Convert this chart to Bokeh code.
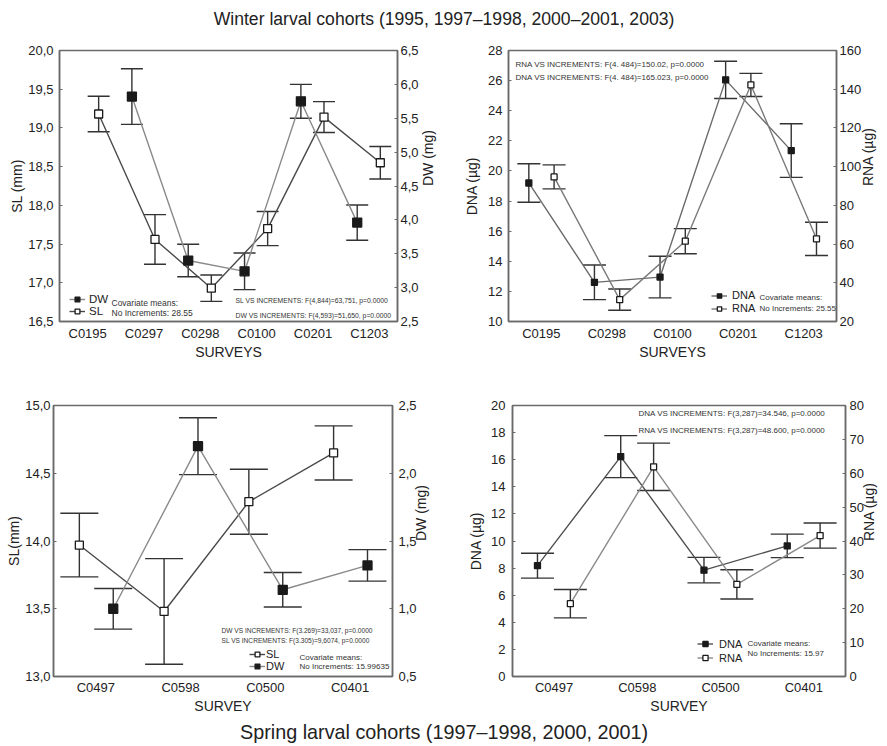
import math

from bokeh.embed import file_html
from bokeh.layouts import column, row
from bokeh.models import (ColumnDataSource, CustomJSTickFormatter, FactorRange,
                          FixedTicker, Label, Legend, LegendItem, LinearAxis,
                          Range1d, TeeHead, Whisker)
from bokeh.plotting import figure
from bokeh.resources import INLINE
from bokeh.transform import dodge

FONT = "Liberation Sans"

# ---------------- Winter cohorts: size ----------------
win_size_surveys = ["C0195", "C0297", "C0298", "C0100", "C0201", "C1203"]
win_sl_surveys = ["C0195", "C0297", "C0298", "C0100", "C0201", "C1203"]
win_sl = [19.18, 17.56, 16.93, 17.70, 19.14, 18.55]
win_sl_err = [0.23, 0.32, 0.17, 0.22, 0.20, 0.21]
win_dw_surveys = ["C0297", "C0298", "C0100", "C0201", "C1203"]
win_dw = [5.82, 3.40, 3.24, 5.75, 3.96]
win_dw_err = [0.41, 0.24, 0.27, 0.25, 0.26]
win_sl_ticks = [16.5, 17.0, 17.5, 18.0, 18.5, 19.0, 19.5, 20.0]
win_dw_ticks = [2.5, 3.0, 3.5, 4.0, 4.5, 5.0, 5.5, 6.0, 6.5]

# ---------------- Winter cohorts: nucleic acids ----------------
win_na_surveys = ["C0195", "C0298", "C0100", "C0201", "C1203"]
win_dna = [19.20, 12.60, 12.95, 26.05, 21.35]
win_dna_err = [1.28, 1.15, 1.38, 1.24, 1.78]
win_rna = [94.7, 31.3, 61.5, 142.2, 62.7]
win_rna_err = [6.2, 5.5, 6.5, 6.0, 8.6]
win_dna_ticks = [10, 12, 14, 16, 18, 20, 22, 24, 26, 28]
win_rna_ticks = [20, 40, 60, 80, 100, 120, 140, 160]

# ---------------- Spring cohorts: size ----------------
spr_surveys = ["C0497", "C0598", "C0500", "C0401"]
spr_sl = [13.97, 13.48, 14.29, 14.65]
spr_sl_err = [0.235, 0.39, 0.24, 0.20]
spr_dw = [1.00, 2.20, 1.14, 1.32]
spr_dw_err = [0.15, 0.21, 0.127, 0.116]
spr_sl_ticks = [13.0, 13.5, 14.0, 14.5, 15.0]
spr_dw_ticks = [0.5, 1.0, 1.5, 2.0, 2.5]

# ---------------- Spring cohorts: nucleic acids ----------------
spr_dna = [8.18, 16.23, 7.85, 9.64]
spr_dna_err = [0.92, 1.55, 0.94, 0.87]
spr_rna = [21.5, 61.9, 27.2, 41.6]
spr_rna_err = [4.2, 7.0, 4.3, 3.7]
spr_dna_ticks = [0, 2, 4, 6, 8, 10, 12, 14, 16, 18, 20]
spr_rna_ticks = [0, 10, 20, 30, 40, 50, 60, 70, 80]

FRAME = "#6a6a6a"
INK = "#1a1a1a"


def comma_formatter():
    return CustomJSTickFormatter(code="return tick.toFixed(1).replace('.', ',');")


def style_axis(ax, tick_standoff, label_standoff):
    ax.axis_line_color = FRAME
    ax.axis_line_width = 1.5
    ax.major_tick_in = 3
    ax.major_tick_out = 0
    ax.major_tick_line_color = FRAME
    ax.minor_tick_line_color = None
    ax.major_label_text_font = FONT
    ax.major_label_text_font_size = "13px"
    ax.major_label_text_color = "#222222"
    ax.major_label_standoff = tick_standoff
    ax.axis_label_text_font = FONT
    ax.axis_label_text_font_size = "14px"
    ax.axis_label_text_font_style = "normal"
    ax.axis_label_text_color = "#222222"
    ax.axis_label_standoff = label_standoff


def make_panel(width, height, borders, factors, left_range, left_ticks, left_label,
               right_range, right_ticks, right_label, x_label, comma,
               left_std, right_std, x_std):
    bl, br, bt, bb = borders
    p = figure(width=width, height=height,
               x_range=FactorRange(factors=factors),
               y_range=Range1d(*left_range),
               toolbar_location=None, output_backend="svg",
               min_border_left=bl, min_border_right=br,
               min_border_top=bt, min_border_bottom=bb)
    p.grid.visible = False
    p.outline_line_color = FRAME
    p.outline_line_width = 1.5
    p.background_fill_color = "white"
    p.border_fill_color = "white"

    ya = p.yaxis[0]
    ya.ticker = FixedTicker(ticks=left_ticks)
    if comma:
        ya.formatter = comma_formatter()
    ya.axis_label = left_label
    style_axis(ya, *left_std)

    p.extra_y_ranges = {"right": Range1d(*right_range)}
    ra = LinearAxis(y_range_name="right", ticker=FixedTicker(ticks=right_ticks),
                    axis_label=right_label)
    if comma:
        ra.formatter = comma_formatter()
    style_axis(ra, *right_std)
    ra.axis_label_orientation = math.pi / 2
    p.add_layout(ra, "right")

    xa = p.xaxis[0]
    xa.axis_label = x_label
    style_axis(xa, *x_std)
    xa.major_tick_line_color = None
    return p


def add_series(p, surveys, values, errs, offset, filled, size, line_color, cap,
               range_name="default"):
    src = ColumnDataSource(dict(
        survey=surveys,
        value=values,
        lower=[v - e for v, e in zip(values, errs)],
        upper=[v + e for v, e in zip(values, errs)],
    ))
    xd = dodge("survey", offset, range=p.x_range)
    ln = p.line(x=xd, y="value", source=src, line_color=line_color,
                line_width=1.4, y_range_name=range_name)
    wh = Whisker(base=xd, upper="upper", lower="lower", source=src,
                 y_range_name=range_name, line_color="#333333", line_width=1.4,
                 upper_head=TeeHead(size=cap, line_color="#333333", line_width=1.4),
                 lower_head=TeeHead(size=cap, line_color="#333333", line_width=1.4))
    p.add_layout(wh)
    sc = p.scatter(x=xd, y="value", source=src, marker="square", size=size,
                   fill_color=INK if filled else "white", line_color=INK,
                   line_width=1.3, y_range_name=range_name)
    return ln, sc


def add_legend(p, items, loc, glyph_h, spacing, standoff, font_size):
    leg = Legend(items=[LegendItem(label=lab, renderers=list(rs)) for lab, rs in items],
                 location=loc, orientation="vertical",
                 background_fill_alpha=0, border_line_color=None,
                 padding=0, margin=0, spacing=spacing,
                 glyph_width=16, glyph_height=glyph_h, label_height=glyph_h,
                 label_standoff=standoff,
                 label_text_font=FONT, label_text_font_size=font_size,
                 label_text_color="#222222")
    p.add_layout(leg)


def add_note(p, x, y, text, size):
    p.add_layout(Label(x=x, y=y, x_units="screen", y_units="screen", text=text,
                       text_font=FONT, text_font_size=size, text_color="#333333",
                       text_baseline="middle", text_align="left"))


def title_strip(height, text, ypos, size):
    t = figure(width=887, height=height, x_range=Range1d(0, 1), y_range=Range1d(0, 1),
               toolbar_location=None, output_backend="svg", min_border=0,
               x_axis_location=None, y_axis_location=None)
    t.grid.visible = False
    t.outline_line_color = None
    t.add_layout(Label(x=0.5, y=ypos, text=text, text_align="center",
                       text_baseline="middle", text_font=FONT,
                       text_font_size=size, text_color="#222222"))
    return t


# ---- Panel 1: SL / DW, winter ----
p1 = make_panel(447, 330, (59, 50, 14, 45), win_size_surveys,
                (16.5, 20.0), win_sl_ticks, "SL (mm)",
                (2.5, 6.5), win_dw_ticks, "DW (mg)", "SURVEYS", True,
                (6, 0), (3, 6), (4, 0))
sl1 = add_series(p1, win_sl_surveys, win_sl, win_sl_err, 0.195, False, 8, "#4a4a4a", 22)
dw1 = add_series(p1, win_dw_surveys, win_dw, win_dw_err, -0.215, True, 9, "#8a8a8a", 22,
                 "right")
add_legend(p1, [("DW", dw1), ("SL", sl1)], (10, 4), 12, -1, 4, "11.5px")
add_note(p1, 52, 19, "Covariate means:", "8.5px")
add_note(p1, 52, 9, "No Increments: 28.55", "8.5px")
add_note(p1, 176, 21, "SL VS INCREMENTS: F(4,844)=63,751, p=0.0000", "6.8px")
add_note(p1, 176, 6, "DW VS INCREMENTS: F(4,593)=51,650, p=0.0000", "6.8px")

# ---- Panel 2: DNA / RNA, winter ----
p2 = make_panel(440, 330, (61, 48, 14, 45), win_na_surveys,
                (10, 28), win_dna_ticks, "DNA (µg)",
                (20, 160), win_rna_ticks, "RNA (µg)", "SURVEYS", False,
                (6, 5), (3, 4), (4, 0))
dna2 = add_series(p2, win_na_surveys, win_dna, win_dna_err, -0.19, True, 6, "#6a6a6a", 23)
rna2 = add_series(p2, win_na_surveys, win_rna, win_rna_err, 0.195, False, 6, "#7a7a7a", 23,
                  "right")
add_legend(p2, [("DNA", dna2), ("RNA", rna2)], (203, 7), 11, 1, 5, "11px")
add_note(p2, 251, 24.5, "Covariate means:", "8px")
add_note(p2, 251, 13.5, "No Increments: 25.55", "8px")
add_note(p2, 7, 257, "RNA VS INCREMENTS: F(4. 484)=150.02, p=0.0000", "8px")
add_note(p2, 7, 244, "DNA VS INCREMENTS: F(4. 484)=165.023, p=0.0000", "8px")

# ---- Panel 3: SL / DW, spring ----
p3 = make_panel(447, 355, (53, 55, 39, 45), spr_surveys,
                (13.0, 15.0), spr_sl_ticks, "SL(mm)",
                (0.5, 2.5), spr_dw_ticks, "DW (mg)", "SURVEY", True,
                (3, 0), (6, 1), (3, 0))
sl3 = add_series(p3, spr_surveys, spr_sl, spr_sl_err, -0.195, False, 8, "#4a4a4a", 38)
dw3 = add_series(p3, spr_surveys, spr_dw, spr_dw_err, 0.205, True, 9, "#8a8a8a", 38,
                 "right")
add_legend(p3, [("SL", sl3), ("DW", dw3)], (196, 4), 12, 0, 1, "11px")
add_note(p3, 246, 19.5, "Covariate means:", "8px")
add_note(p3, 246, 10.5, "No Increments: 15.99635", "8px")
add_note(p3, 168, 46.5, "DW VS INCREMENTS: F(3.269)=33,037, p=0.0000", "6.6px")
add_note(p3, 168, 36.5, "SL VS INCREMENTS: F(3.305)=9,6074, p=0.0000", "6.6px")

# ---- Panel 4: DNA / RNA, spring ----
p4 = make_panel(440, 355, (65, 40, 39, 45), spr_surveys,
                (0, 20), spr_dna_ticks, "DNA (µg)",
                (0, 80), spr_rna_ticks, "RNA (µg)", "SURVEY", False,
                (7, 4), (4, 2), (3, 0))
dna4 = add_series(p4, spr_surveys, spr_dna, spr_dna_err, -0.2, True, 6, "#505050", 33)
rna4 = add_series(p4, spr_surveys, spr_rna, spr_rna_err, 0.195, False, 6, "#8a8a8a", 33,
                  "right")
add_legend(p4, [("DNA", dna4), ("RNA", rna4)], (185, 12), 13, 1, 6, "11px")
add_note(p4, 235, 33, "Covariate means:", "8px")
add_note(p4, 235, 23, "No Increments: 15.97", "8px")
add_note(p4, 126, 263.5, "DNA VS INCREMENTS: F(3,287)=34.546, p=0.0000", "8px")
add_note(p4, 126, 246, "RNA VS INCREMENTS: F(3,287)=48.600, p=0.0000", "8px")

top = title_strip(36, "Winter larval cohorts (1995, 1997–1998, 2000–2001, 2003)", 0.5,
                  "17.6px")
bottom = title_strip(25, "Spring larval cohorts (1997–1998, 2000, 2001)", 0.6, "19.8px")

layout = column(top, row(p1, p2), row(p3, p4), bottom)

open("out.html", "w").write(file_html(layout, INLINE))
